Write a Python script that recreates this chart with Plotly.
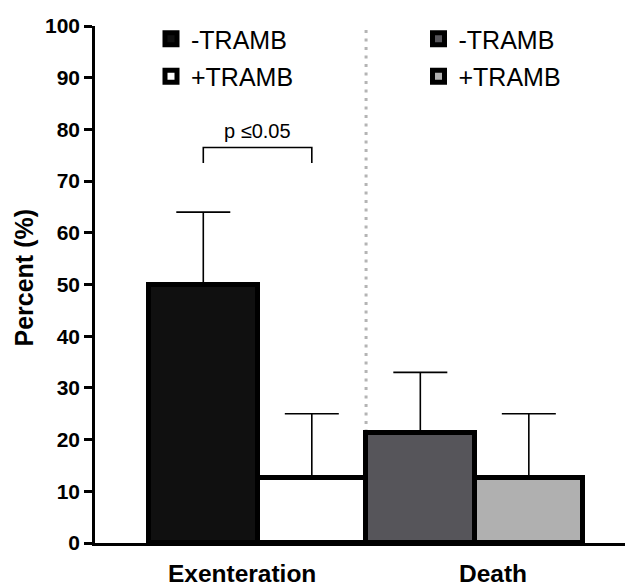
import plotly.graph_objects as go

# ---- data ----
categories = ["Exenteration", "Death"]
groups = ["-TRAMB", "+TRAMB"]
minus_vals = [50, 21.3]
plus_vals = [12.5, 12.5]
minus_err = [14, 11.7]
plus_err = [12.5, 12.5]
y_ticks = [0, 10, 20, 30, 40, 50, 60, 70, 80, 90, 100]
y_title = "Percent (%)"
p_label = "p ≤0.05"

# ---- styles ----
fills = {
    ("Exenteration", "-TRAMB"): "#101010",
    ("Exenteration", "+TRAMB"): "#ffffff",
    ("Death", "-TRAMB"): "#56555a",
    ("Death", "+TRAMB"): "#b0b0b0",
}
legend_for = {"Exenteration": "legend", "Death": "legend2"}
FONT = "Liberation Sans, Arial, Helvetica, sans-serif"
label_pos = [-0.071, 1.085]
W, H = 625, 578  # page body has an 8px margin
ML = 87

fig = go.Figure()
values = {"-TRAMB": minus_vals, "+TRAMB": plus_vals}
errors = {"-TRAMB": minus_err, "+TRAMB": plus_err}
for ci, cat in enumerate(categories):
    for g in groups:
        fig.add_trace(go.Bar(
            x=[ci], y=[values[g][ci]], name=g,
            offsetgroup=g, legend=legend_for[cat],
            legendgroup=cat + g,
            marker=dict(color=fills[(cat, g)], line=dict(color="black", width=5)),
            error_y=dict(type="data", array=[errors[g][ci]], arrayminus=[0],
                         symmetric=False, color="black", thickness=1.6, width=27),
            showlegend=True,
        ))

# separator line between the groups
fig.add_shape(type="line", xref="x", yref="y", x0=0.5, x1=0.5, y0=0, y1=100,
              line=dict(color="#b4b4b4", width=3, dash="3px,5.5px"), layer="below")

# significance bracket
fig.add_shape(type="path", xref="x", yref="y",
              path="M -0.25,73.5 L -0.25,76.5 L 0.25,76.5 L 0.25,73.5",
              line=dict(color="black", width=1.6))
fig.add_annotation(x=0, y=76.5, xref="x", yref="y", text=p_label, showarrow=False,
                   yanchor="bottom", yshift=4,
                   font=dict(family=FONT, size=20, color="black"))

# y-axis title
fig.add_annotation(x=(16 - ML) / (W - ML), y=0.5135, xref="paper", yref="paper",
                   text=y_title, showarrow=False, textangle=-90,
                   xanchor="center", yanchor="middle",
                   font=dict(family=FONT, size=25, color="black", weight="bold"))

legend_style = dict(font=dict(family=FONT, size=25, color="black"),
                    bgcolor="rgba(0,0,0,0)", yanchor="top", xanchor="left",
                    xref="container", yref="container",
                    tracegroupgap=2, itemclick=False)

fig.update_layout(
    width=W, height=H,
    margin=dict(l=ML, r=0, t=18, b=43, autoexpand=False),
    paper_bgcolor="white", plot_bgcolor="white",
    barmode="group", bargap=0, bargroupgap=0,
    font=dict(family=FONT, color="black"),
    legend=dict(x=143 / W, y=1 - 8 / H, **legend_style),
    legend2=dict(x=410.5 / W, y=1 - 8 / H, **legend_style),
    xaxis=dict(range=[-0.749, 1.730], showgrid=False, zeroline=False,
               showline=True, linecolor="black", linewidth=2.5,
               tickmode="array", tickvals=label_pos, ticktext=categories,
               ticks="", ticklabelstandoff=7, automargin=False,
               tickfont=dict(family=FONT, size=24.5, color="black", weight="bold")),
    yaxis=dict(range=[0, 100], showgrid=False, zeroline=False,
               showline=True, linecolor="black", linewidth=2.5,
               tickmode="array", tickvals=y_ticks, automargin=False,
               ticks="outside", ticklen=8, tickwidth=2.5, tickcolor="black",
               tickfont=dict(family=FONT, size=21, color="black", weight="bold")),
)

fig.write_html("out.html")
